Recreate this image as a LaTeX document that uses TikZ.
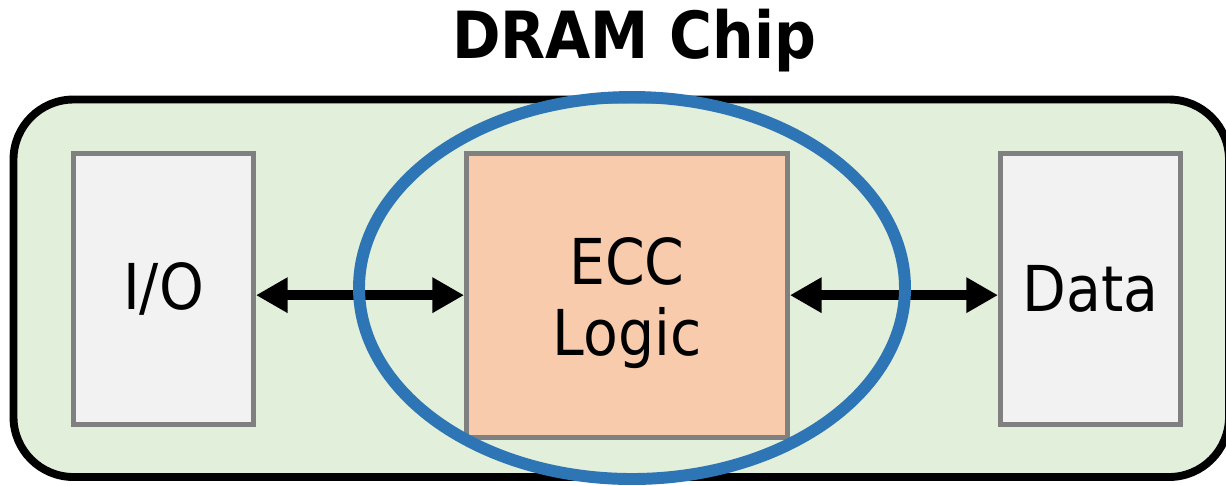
\documentclass[tikz,border=0pt]{standalone}
\usepackage{fontspec}
\setmainfont{DejaVu Sans Condensed}
\usetikzlibrary{arrows.meta}

\definecolor{chipgreen}{HTML}{E2EFDA}
\definecolor{boxgray}{HTML}{F2F2F2}
\definecolor{edgegray}{HTML}{808080}
\definecolor{eccorange}{HTML}{F8CBAD}
\definecolor{ringblue}{HTML}{2E75B6}

\begin{document}
\begin{tikzpicture}[x=0.02cm, y=-0.02cm,
		unit/.style={draw=edgegray, line width=2.8pt, fill=boxgray, inner sep=0pt, font=\fontsize{36}{40}\selectfont},
		link/.style={line width=5.8pt, {Triangle[length=18pt,width=19pt]}-{Triangle[length=18pt,width=19pt]}}]
		\useasboundingbox (0,0) rectangle (1226,485);
		% chip outline
		\draw[line width=4.5pt, fill=chipgreen, rounded corners=1.2cm] (13.5,99.5) rectangle (1229,477);
		\node[font=\bfseries\fontsize{37}{40}\selectfont] (title) at (634,41) {DRAM Chip};
		% blocks
		\node[unit, minimum width=3.6cm, minimum height=5.42cm] (io) at (163.5,289) {\raisebox{-4pt}{I/O}};
		\node[unit, fill=eccorange, minimum width=6.42cm, minimum height=5.69cm] (ecc) at (627,295.7) {};
		\node[font=\fontsize{36}{40}\selectfont, align=center] (ecclabel) at (627,303) {ECC\\Logic};
		\node[unit, minimum width=3.61cm, minimum height=5.42cm] (data) at (1090.7,289) {\raisebox{-4pt}{Data}};
		\draw[link] ([yshift=-3.5pt]io.east) -- ([yshift=-3.5pt]ecc.west |- io.east);
		\draw[link] ([yshift=-3.5pt]ecc.east |- data.west) -- ([yshift=-3.5pt]data.west);
		% highlight
		\draw[ringblue, line width=6.8pt] (632,288) ellipse [x radius=273, y radius=191];
	\end{tikzpicture}
\end{document}
